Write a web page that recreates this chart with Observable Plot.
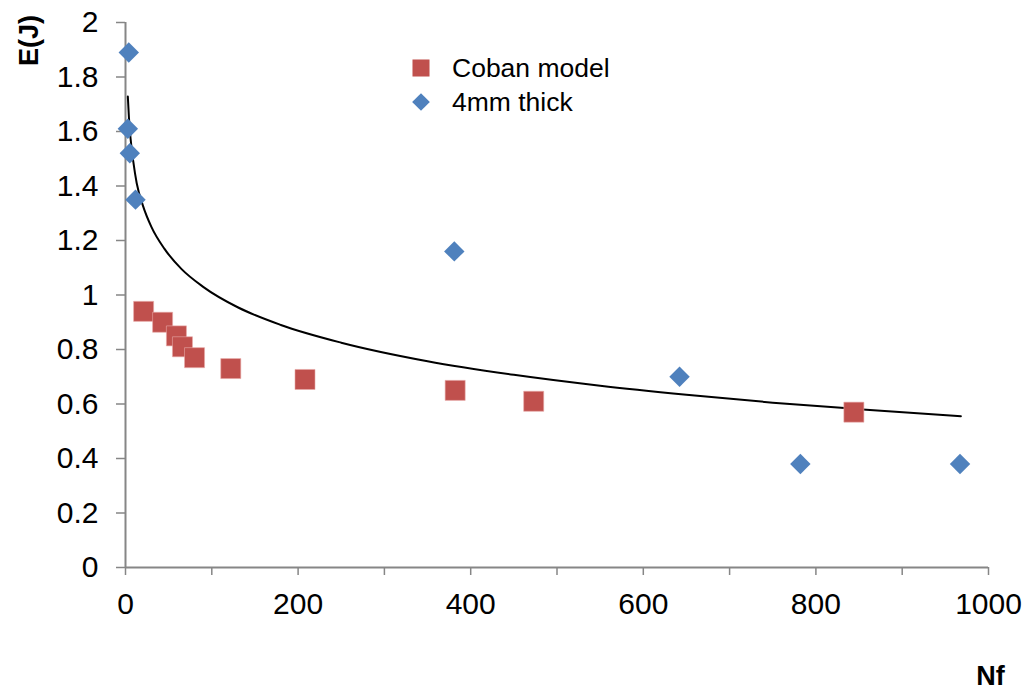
<!DOCTYPE html>
<html>
<head>
<meta charset="utf-8">
<script src="https://cdn.jsdelivr.net/npm/d3@7"></script>
<script src="https://cdn.jsdelivr.net/npm/@observablehq/plot@0.6"></script>
<style>
  html, body { margin: 0; padding: 0; background: #fff; }
  #wrap { position: relative; width: 1027px; height: 699px; font-family: "Liberation Sans", Arial, sans-serif; }
  #legend { position: absolute; left: 410px; top: 51px; font-size: 26.5px; color: #000; line-height: 34px; }
  #legend .row { display: flex; align-items: center; }
  #legend svg { margin-right: 20px; }
</style>
</head>
<body>
<div id="wrap"><div id="legend"></div></div>
<script>
// Series: Coban model (red squares)
const cobanNf = [21, 43, 59, 66, 80, 122, 208, 382, 473, 844];
const cobanE  = [0.94, 0.90, 0.85, 0.81, 0.77, 0.73, 0.69, 0.65, 0.61, 0.57];
// Series: 4mm thick (blue diamonds)
const thickNf = [3.8, 2.7, 5, 11.6, 381, 642, 782, 967];
const thickE  = [1.89, 1.61, 1.52, 1.35, 1.16, 0.70, 0.38, 0.38];
// Trend line
const trendNf = [2.7, 4, 6, 9, 13, 20, 30, 45, 65, 90, 130, 180, 250, 350, 450, 550, 650, 750, 850, 968];
const trendE  = [1.728, 1.65, 1.57, 1.49, 1.41, 1.33, 1.25, 1.17, 1.095, 1.03, 0.955, 0.89, 0.825, 0.757, 0.707, 0.667, 0.634, 0.605, 0.581, 0.555];
// Axis ticks
const xTicks = [0, 100, 200, 300, 400, 500, 600, 700, 800, 900, 1000];
const xLabels = [0, 200, 400, 600, 800, 1000];
const yTicks = [0, 0.2, 0.4, 0.6, 0.8, 1, 1.2, 1.4, 1.6, 1.8, 2];
const seriesNames = ["Coban model", "4mm thick"];
const colors = ["#C0504D", "#4F81BD"];

const coban = cobanNf.map((x, i) => ({x, y: cobanE[i]}));
const thick = thickNf.map((x, i) => ({x, y: thickE[i]}));
const trend = trendNf.map((x, i) => ({x, y: trendE[i]}));

const axisGray = "#868686";

const chart = Plot.plot({
  width: 1027,
  height: 699,
  marginLeft: 125,
  marginRight: 39,
  marginTop: 22,
  marginBottom: 132,
  style: { fontFamily: "Liberation Sans, Arial, sans-serif", background: "transparent", overflow: "visible" },
  x: { domain: [0, 1000] },
  y: { domain: [0, 2] },
  marks: [
    Plot.axisX({ticks: xTicks, tickSize: 8, tickPadding: 17, stroke: axisGray, strokeWidth: 1.5,
      tickFormat: d => xLabels.includes(d) ? String(d) : "", fontSize: 30, color: "#000", label: null}),
    Plot.axisY({ticks: yTicks, tickSize: 9, tickPadding: 18, stroke: axisGray, strokeWidth: 1.5,
      tickFormat: d => String(+d.toFixed(1)), fontSize: 30, color: "#000", label: null}),
    Plot.ruleX([0], {stroke: axisGray, strokeWidth: 2}),
    Plot.ruleY([0], {stroke: axisGray, strokeWidth: 2}),
    Plot.line(trend, {x: "x", y: "y", curve: "monotone-x", stroke: "#000", strokeWidth: 2}),
    Plot.dot(coban, {x: "x", y: "y", symbol: "square", r: 11.3, fill: colors[0], stroke: "#e8a9a7", strokeWidth: 0.6}),
    Plot.dot(thick, {x: "x", y: "y", symbol: "diamond2", r: 9.2, fill: colors[1]}),
    Plot.text(["E(J)"], {frameAnchor: "top-left", dx: -107, dy: 18, rotate: -90, fontSize: 27, fontWeight: "bold", fill: "#000", textAnchor: "middle"}),
    Plot.text(["Nf"], {frameAnchor: "bottom-right", dx: 2, dy: 117, fontSize: 27, fontWeight: "bold", fill: "#000", textAnchor: "middle"})
  ]
});
document.getElementById("wrap").appendChild(chart);

// Legend
const legend = d3.select("#legend");
const symbols = [d3.symbolSquare, d3.symbolDiamond2];
const sizes = [290, 200];
seriesNames.forEach((name, i) => {
  const row = legend.append("div").attr("class", "row");
  const s = row.append("svg").attr("width", 22).attr("height", 22);
  s.append("path").attr("transform", "translate(11,11)")
    .attr("d", d3.symbol(symbols[i], sizes[i])()).attr("fill", colors[i]);
  row.append("span").text(name);
});
</script>
</body>
</html>
